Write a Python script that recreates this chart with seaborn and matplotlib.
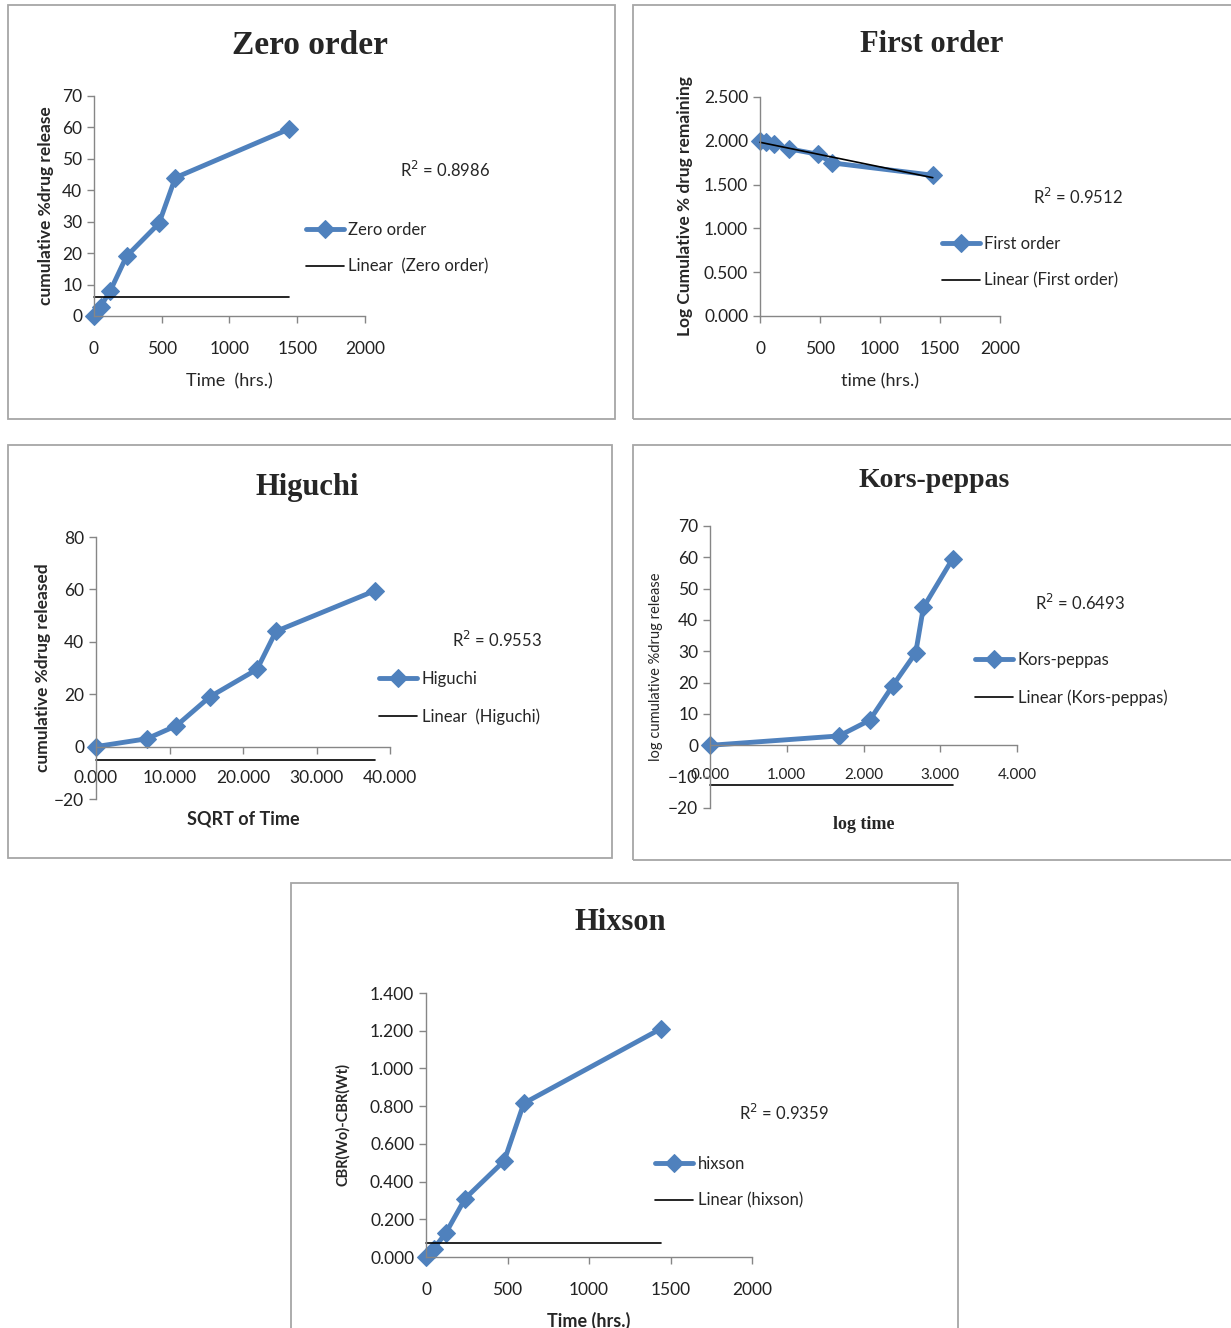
import numpy as np
import matplotlib
matplotlib.use('Agg')
import matplotlib.pyplot as plt
import seaborn as sns
from matplotlib.patches import Rectangle
from matplotlib.ticker import FormatStrFormatter

# dissolution data
time_hrs = [0, 48, 120, 240, 480, 600, 1440]
cum_release = [0, 3, 8, 19, 29.5, 44, 59.5]
log_remaining = [2.000, 1.987, 1.964, 1.908, 1.848, 1.748, 1.607]
sqrt_time = [0, 6.93, 10.95, 15.49, 21.91, 24.49, 37.95]
log_time = [0, 1.68, 2.08, 2.38, 2.68, 2.78, 3.16]
hixson = [0, 0.045, 0.125, 0.31, 0.51, 0.815, 1.21]

# trendline end points as drawn by the spreadsheet
zero_trend = [6.0, 6.0]
first_trend = [1.983, 1.579]
higuchi_trend = [-5.3, -5.3]
kors_trend = [-12.7, -12.7]
hixson_trend = [0.074, 0.074]

r2_values = ['0.8986', '0.9512', '0.9553', '0.6493', '0.9359']

sns.set_theme(style='white')
plt.rcParams['font.family'] = ['Lato', 'DejaVu Sans']

BLUE = '#4F81BD'
GREY = '#868686'
W, H = 1231, 1328

fig = plt.figure(figsize=(W / 100, H / 100), dpi=100)


def fx(px):
    return px / W


def fy(py):
    return 1 - py / H


def panel_box(x0, y0, x1, y1):
    fig.patches.append(Rectangle((fx(x0), fy(y1)), fx(x1 - x0), (y1 - y0) / H,
                                 transform=fig.transFigure, fill=False,
                                 edgecolor='#A6A6A6', linewidth=1.3))


def make_axes(left, right, top, bottom):
    ax = fig.add_axes([fx(left), fy(bottom), fx(right - left), (bottom - top) / H])
    for s in ['top', 'right']:
        ax.spines[s].set_visible(False)
    for s in ['left', 'bottom']:
        ax.spines[s].set_color(GREY)
        ax.spines[s].set_linewidth(1.0)
    ax.tick_params(direction='out', length=5, width=1, color=GREY,
                   labelsize=12.5, labelcolor='#222222', left=True, bottom=True)
    ax.set_facecolor('none')
    return ax


def draw(ax, x, y, trend_x, trend_y, name, trend_name):
    sns.lineplot(x=x, y=y, ax=ax, color=BLUE, marker='D', markersize=9,
                 markeredgecolor=BLUE, linewidth=3.5, label=name,
                 estimator=None, clip_on=False)
    ax.plot(trend_x, trend_y, color='black', linewidth=1.2, label=trend_name,
            clip_on=False)
    if ax.get_legend():
        ax.get_legend().remove()


def legend(ax, x_px, y_px):
    h, l = ax.get_legend_handles_labels()
    ax.legend(h, l, loc='center left', bbox_to_anchor=(fx(x_px), fy(y_px)),
              bbox_transform=fig.transFigure, frameon=False, fontsize=12,
              handlelength=2.3, handletextpad=0.25, labelspacing=1.25,
              borderpad=0, borderaxespad=0)


def title(x_px, y_px, text, size=24):
    fig.text(fx(x_px), fy(y_px), text, ha='center', va='center',
             fontsize=size, fontweight='bold', family='Liberation Serif')


def r2(x_px, y_px, val):
    fig.text(fx(x_px), fy(y_px), 'R$^2$ = ' + val, ha='left', va='center',
             fontsize=12)


# panel borders
panel_box(8, 5, 615, 419)
panel_box(633, 5, 1240, 419)
panel_box(8, 445, 612, 858)
panel_box(633, 445, 1240, 860)
panel_box(291, 883, 958, 1340)

# Zero order
ax1 = make_axes(94, 365, 96, 316)
draw(ax1, time_hrs, cum_release, [0, 1440], zero_trend,
     'Zero order', 'Linear  (Zero order)')
ax1.set_xlim(0, 2000)
ax1.set_ylim(0, 70)
ax1.set_xticks(range(0, 2001, 500))
ax1.set_yticks(range(0, 71, 10))
ax1.tick_params(axis='x', pad=13)
ax1.set_xlabel('Time  (hrs.)', fontsize=13, labelpad=12)
ax1.set_ylabel('cumulative %drug release', fontsize=12.5, fontweight='bold',
               labelpad=6)
legend(ax1, 306, 248)
title(310, 45, 'Zero order', 24)
r2(400, 170, r2_values[0])

# First order
ax2 = make_axes(760, 1000, 97, 316)
draw(ax2, time_hrs, log_remaining, [0, 1440], first_trend,
     'First order', 'Linear (First order)')
ax2.set_xlim(0, 2000)
ax2.set_ylim(0, 2.5)
ax2.set_xticks(range(0, 2001, 500))
ax2.set_yticks(np.arange(0, 2.51, 0.5))
ax2.yaxis.set_major_formatter(FormatStrFormatter('%.3f'))
ax2.tick_params(axis='x', pad=13)
ax2.set_xlabel('time (hrs.)', fontsize=13, labelpad=12)
ax2.set_ylabel('Log Cumulative % drug remaining', fontsize=12.5,
               fontweight='bold', labelpad=8)
legend(ax2, 942, 262)
title(932, 45, 'First order', 22)
r2(1033, 197, r2_values[1])

# Higuchi
ax3 = make_axes(96, 390, 537, 799)
draw(ax3, sqrt_time, cum_release, [0, 37.95], higuchi_trend,
     'Higuchi', 'Linear  (Higuchi)')
ax3.set_xlim(0, 40)
ax3.set_ylim(-20, 80)
ax3.spines['bottom'].set_position(('data', 0))
ax3.set_xticks(range(0, 41, 10))
ax3.set_yticks(range(-20, 81, 20))
ax3.xaxis.set_major_formatter(FormatStrFormatter('%.3f'))
ax3.tick_params(axis='x', pad=12)
ax3.set_xlabel('SQRT of Time', fontsize=13, fontweight='bold')
ax3.xaxis.set_label_coords(0.5, -0.045)
ax3.set_ylabel('cumulative %drug released', fontsize=12.5,
               fontweight='bold', labelpad=2)
legend(ax3, 379, 698)
title(307, 488, 'Higuchi', 22)
r2(452, 640, r2_values[2])

# Kors-peppas
ax4 = make_axes(710, 1017, 526, 808)
draw(ax4, log_time, cum_release, [0, 3.16], kors_trend,
     'Kors-peppas', 'Linear (Kors-peppas)')
ax4.set_xlim(0, 4)
ax4.set_ylim(-20, 70)
ax4.spines['bottom'].set_position(('data', 0))
ax4.set_xticks(range(0, 5))
ax4.set_yticks(range(-20, 71, 10))
ax4.xaxis.set_major_formatter(FormatStrFormatter('%.3f'))
ax4.tick_params(axis='x', pad=11, labelsize=11)
ax4.set_xlabel('log time', fontsize=13, fontweight='bold',
               family='Liberation Serif')
ax4.xaxis.set_label_coords(0.5, -0.03)
ax4.set_ylabel('log cumulative %drug release', fontsize=10.5, labelpad=4)
legend(ax4, 975, 679)
title(934, 481, 'Kors-peppas', 20)
r2(1035, 603, r2_values[3])

# Hixson
ax5 = make_axes(426, 752, 993, 1257)
draw(ax5, time_hrs, hixson, [0, 1440], hixson_trend,
     'hixson', 'Linear (hixson)')
ax5.set_xlim(0, 2000)
ax5.set_ylim(0, 1.4)
ax5.set_xticks(range(0, 2001, 500))
ax5.set_yticks(np.arange(0, 1.41, 0.2))
ax5.yaxis.set_major_formatter(FormatStrFormatter('%.3f'))
ax5.tick_params(axis='x', pad=13)
ax5.set_xlabel('Time (hrs.)', fontsize=13, fontweight='bold', labelpad=10)
ax5.set_ylabel('CBR(Wo)-CBR(Wt)', fontsize=10.5, fontweight='bold',
               labelpad=14)
legend(ax5, 655, 1182)
title(620, 923, 'Hixson', 22)
r2(739, 1113, r2_values[4])

fig.savefig('out.png', dpi=100, facecolor='white')
